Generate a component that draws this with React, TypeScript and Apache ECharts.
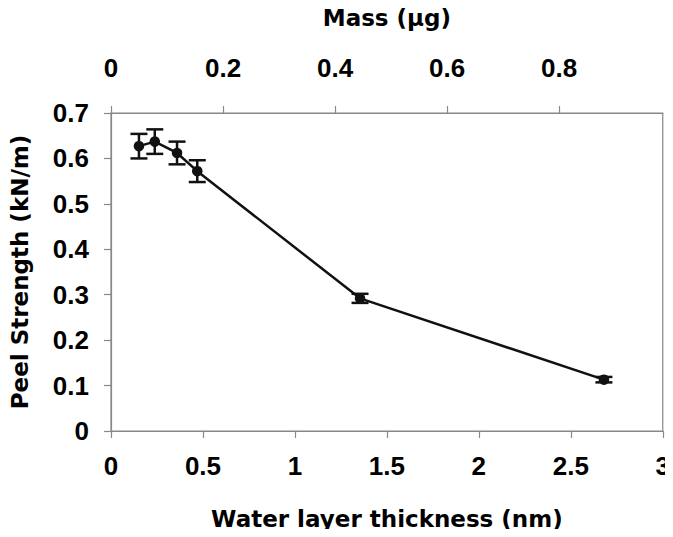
import React, { useEffect, useRef } from "react";
import * as echarts from "echarts";

const thickness = [0.152, 0.238, 0.359, 0.469, 1.354, 2.68];
const peel = [0.627, 0.637, 0.612, 0.572, 0.292, 0.113];
const peelErr = [0.027, 0.027, 0.025, 0.024, 0.01, 0.006];
const xTitle = "Water layer thickness (nm)";
const yTitle = "Peel Strength (kN/m)";
const topTitle = "Mass (µg)";
const massMax = 0.985;

const FONT = "'Liberation Sans', Arial, sans-serif";
const TITLE_FONT = "'DejaVu Sans', sans-serif";

export default function App() {
  const ref = useRef<HTMLDivElement>(null);
  useEffect(() => {
    if (!ref.current) return;
    const chart = echarts.init(ref.current, null, { renderer: "svg" });
    const lineData = thickness.map((x, i) => [x, peel[i]]);
    const errData = thickness.map((x, i) => [x, peel[i] - peelErr[i], peel[i] + peelErr[i]]);
    const labelStyle = { color: "#000", fontWeight: "bold" as const, fontSize: 26, fontFamily: FONT };
    const nameStyle = { color: "#000", fontWeight: "bold" as const, fontSize: 23, fontFamily: TITLE_FONT };
    const axisLine = { show: true, lineStyle: { color: "#888", width: 1.2 } };
    const tick = { show: true, length: 7, lineStyle: { color: "#888", width: 1.2 } };
    chart.setOption({
      animation: false,
      backgroundColor: "#fff",
      grid: {
        left: 110,
        right: 8,
        top: 113,
        bottom: 106,
        show: true,
        borderColor: "#888",
        borderWidth: 1.2,
        backgroundColor: "transparent",
      },
      xAxis: [
        {
          type: "value",
          position: "bottom",
          min: 0,
          max: 3,
          interval: 0.5,
          name: xTitle,
          nameLocation: "middle",
          nameGap: 76,
          nameTextStyle: nameStyle,
          axisLine,
          axisTick: tick,
          axisLabel: { ...labelStyle, margin: 22 },
          splitLine: { show: false },
        },
        {
          type: "value",
          position: "top",
          min: 0,
          max: massMax,
          interval: 0.2,
          name: topTitle,
          nameLocation: "middle",
          nameGap: 84,
          nameTextStyle: nameStyle,
          axisLine,
          axisTick: tick,
          axisLabel: { ...labelStyle, margin: 32, showMaxLabel: false },
          splitLine: { show: false },
        },
      ],
      yAxis: {
        type: "value",
        min: 0,
        max: 0.7,
        interval: 0.1,
        name: yTitle,
        nameLocation: "middle",
        nameGap: 80,
        nameTextStyle: nameStyle,
        axisLine,
        axisTick: tick,
        axisLabel: { ...labelStyle, margin: 22, formatter: (v: number) => String(Math.round(v * 10) / 10) },
        splitLine: { show: false },
      },
      series: [
        {
          type: "custom",
          xAxisIndex: 0,
          yAxisIndex: 0,
          data: errData,
          z: 3,
          renderItem: (params: any, api: any) => {
            const x = api.value(0);
            const lo = api.coord([x, api.value(1)]);
            const hi = api.coord([x, api.value(2)]);
            const hw = 8.5;
            const style = { stroke: "#111", lineWidth: 2.5, fill: "none" };
            return {
              type: "group",
              children: [
                { type: "line", shape: { x1: lo[0], y1: lo[1], x2: hi[0], y2: hi[1] }, style },
                { type: "line", shape: { x1: lo[0] - hw, y1: lo[1], x2: lo[0] + hw, y2: lo[1] }, style },
                { type: "line", shape: { x1: hi[0] - hw, y1: hi[1], x2: hi[0] + hw, y2: hi[1] }, style },
              ],
            };
          },
        },
        {
          type: "line",
          xAxisIndex: 0,
          yAxisIndex: 0,
          data: lineData,
          symbol: "circle",
          symbolSize: 10.5,
          lineStyle: { color: "#111", width: 2.5 },
          itemStyle: { color: "#111" },
          z: 4,
        },
      ],
    });
    return () => chart.dispose();
  }, []);
  return <div ref={ref} style={{ width: 673, height: 537, margin: -8 }} />;
}
